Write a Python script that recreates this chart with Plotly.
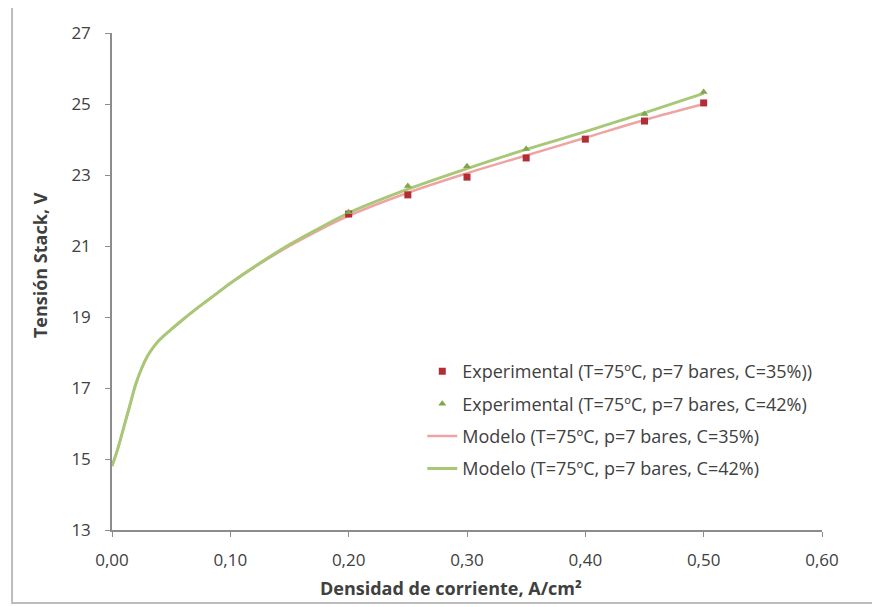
import plotly.graph_objects as go

# Experimental data
exp_x_35 = [0.20, 0.25, 0.30, 0.35, 0.40, 0.45, 0.50]
exp_y_35 = [21.90, 22.44, 22.94, 23.48, 24.01, 24.52, 25.03]
exp_x_42 = [0.20, 0.25, 0.30, 0.35, 0.45, 0.50]
exp_y_42 = [21.95, 22.69, 23.25, 23.73, 24.72, 25.34]

# Model curves
model_x = [0, 0.005, 0.01, 0.015, 0.02, 0.025, 0.03, 0.035, 0.04, 0.05, 0.06, 0.07,
           0.08, 0.09, 0.10, 0.125, 0.15, 0.175, 0.20, 0.25, 0.30, 0.35, 0.40, 0.45, 0.50]
model_y_35 = [14.8, 15.3, 15.9, 16.5, 17.1, 17.55, 17.9, 18.15, 18.35, 18.65, 18.93, 19.2,
              19.45, 19.7, 19.95, 20.5, 21.0, 21.45, 21.85, 22.5, 23.05, 23.55, 24.05, 24.55, 25.0]
model_y_42 = [14.8, 15.3, 15.9, 16.5, 17.1, 17.55, 17.9, 18.15, 18.35, 18.65, 18.93, 19.2,
              19.45, 19.7, 19.95, 20.52, 21.04, 21.5, 21.93, 22.6, 23.18, 23.72, 24.22, 24.75, 25.3]

x_ticks = [0.0, 0.1, 0.2, 0.3, 0.4, 0.5, 0.6]
x_tick_labels = ["0,00", "0,10", "0,20", "0,30", "0,40", "0,50", "0,60"]
y_ticks = [13, 15, 17, 19, 21, 23, 25, 27]

names = [
    "Experimental (T=75ºC, p=7 bares, C=35%))",
    "Experimental (T=75ºC, p=7 bares, C=42%)",
    "Modelo (T=75ºC, p=7 bares, C=35%)",
    "Modelo (T=75ºC, p=7 bares, C=42%)",
]

fig = go.Figure()
fig.add_trace(go.Scatter(x=model_x, y=model_y_35, mode="lines", name=names[2],
                         line=dict(color="#F0A3A3", width=2.5, shape="spline"),
                         legendgroup="c", legendrank=3))
fig.add_trace(go.Scatter(x=model_x, y=model_y_42, mode="lines", name=names[3],
                         line=dict(color="#A8C878", width=3, shape="spline"),
                         legendgroup="d", legendrank=4))
fig.add_trace(go.Scatter(x=exp_x_35, y=exp_y_35, mode="markers", name=names[0],
                         marker=dict(symbol="square", color="#B22D35", size=7),
                         legendgroup="a", legendrank=1))
fig.add_trace(go.Scatter(x=exp_x_42, y=exp_y_42, mode="markers", name=names[1],
                         marker=dict(symbol="triangle-up", color="#7FA64A", size=7),
                         legendgroup="b", legendrank=2))

axis_common = dict(showgrid=False, zeroline=False, showline=True, linecolor="#8C8C8C",
                   linewidth=1.5, ticks="outside", ticklen=5, tickcolor="#8C8C8C",
                   tickfont=dict(family="Open Sans", size=17, color="#404040"))

fig.update_xaxes(range=[0, 0.6], tickvals=x_ticks, ticktext=x_tick_labels, ticklabelstandoff=9,
                 **axis_common)
fig.update_yaxes(range=[13, 27], tickvals=y_ticks, ticklabelstandoff=11, **axis_common)

fig.add_annotation(text="<b>Tensión Stack, V</b>", textangle=-90, xref="paper", yref="paper",
                   x=-0.1014, y=0.533, xanchor="center", yanchor="middle", showarrow=False,
                   font=dict(family="Open Sans", size=18, color="#404040"))
fig.add_annotation(text="<b>Densidad de corriente, A/cm²</b>", xref="paper", yref="paper",
                   x=0.477, y=-0.1167, xanchor="center", yanchor="middle", showarrow=False,
                   font=dict(family="Open Sans", size=18, color="#404040"))

fig.add_shape(type="rect", xref="paper", yref="paper",
              x0=-0.1408, x1=1.2, y0=-0.1469, y1=1.0523,
              line=dict(color="#BDBDBD", width=2), fillcolor="rgba(0,0,0,0)", layer="below")

fig.update_layout(
    width=880, height=607,
    margin=dict(l=104, r=66, t=25, b=85),
    plot_bgcolor="white", paper_bgcolor="white",
    legend=dict(x=0.437, y=0.356, xanchor="left", yanchor="top",
                bgcolor="rgba(255,255,255,0)", traceorder="grouped", tracegroupgap=6,
                font=dict(family="Open Sans", size=18, color="#404040")),
)

fig.write_html("out.html")
